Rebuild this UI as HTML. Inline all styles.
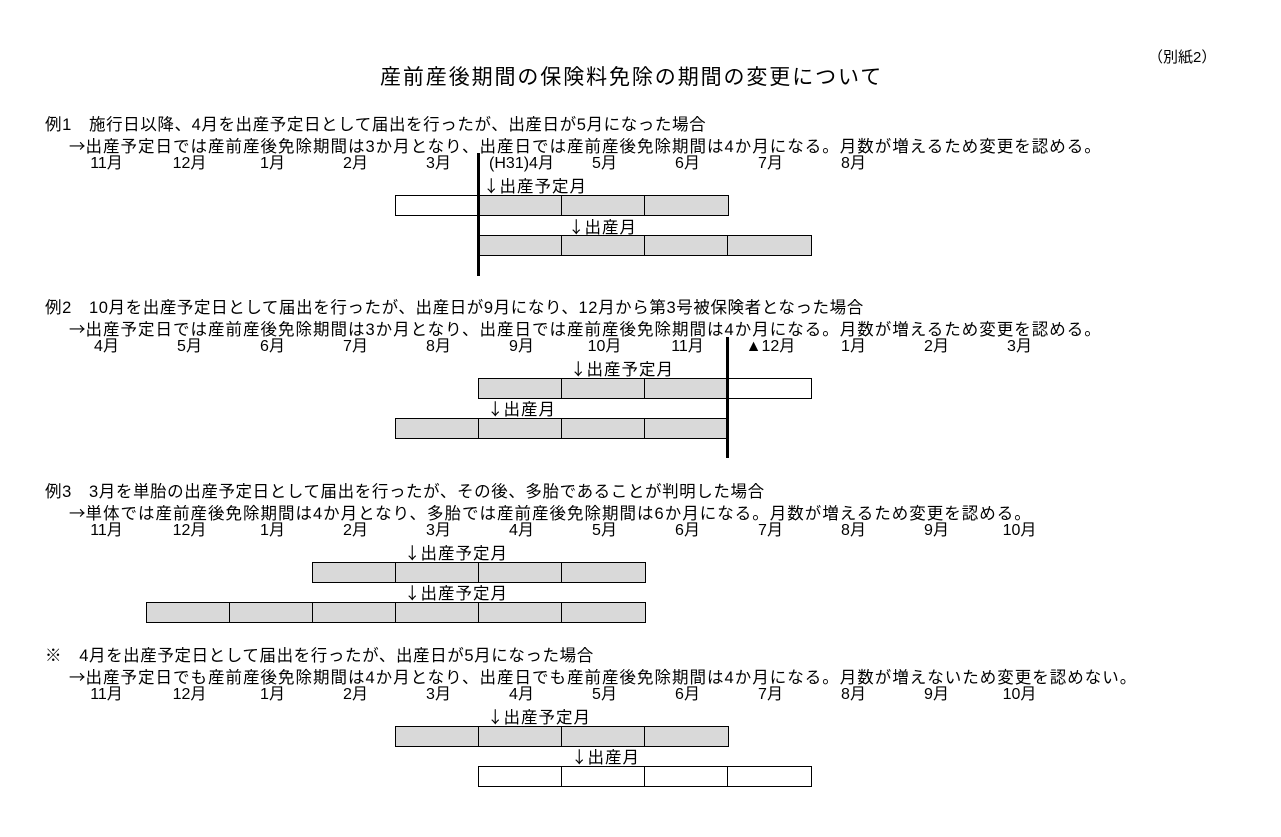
<!DOCTYPE html>
<html><head><meta charset="utf-8"><style>
body{margin:0;width:1281px;height:837px;background:#fff;position:relative;overflow:hidden;font-family:"Liberation Sans","Noto Sans CJK JP",sans-serif;color:#000}
.t{position:absolute;white-space:nowrap;font-size:16.5px;line-height:20px;letter-spacing:1px}
.h{letter-spacing:0.6px}
.a{font-family:"Noto Sans CJK JP",sans-serif;letter-spacing:0}
.m{position:absolute;width:83px;text-align:center;font-size:16px;line-height:20px;white-space:nowrap;padding-left:2px}
.c{position:absolute;height:21px;width:84.5px;box-sizing:border-box;border:1.5px solid #000;background:#d9d9d9}
.w{background:#fff}
.v{position:absolute;width:3px;background:#000}
</style></head><body>
<div class="t" style="left:1148px;top:48px;font-size:15px;letter-spacing:0">（別紙2）</div>
<div class="t" style="left:380px;top:66px;font-size:21px;line-height:24px;letter-spacing:1.9px">産前産後期間の保険料免除の期間の変更について</div>

<!-- Ex1 -->
<div class="t h" style="left:45px;top:115px">例1　施行日以降、4月を出産予定日として届出を行ったが、出産日が5月になった場合</div>
<div class="t" style="left:69px;top:135px"><span class="a">→</span>出産予定日では産前産後免除期間は3か月となり、出産日では産前産後免除期間は4か月になる。月数が増えるため変更を認める。</div>
<div class="m" style="left:63px;top:154px">11月</div><div class="m" style="left:146px;top:154px">12月</div><div class="m" style="left:229px;top:154px">1月</div><div class="m" style="left:312px;top:154px">2月</div><div class="m" style="left:395px;top:154px">3月</div><div class="m" style="left:478px;top:154px">(H31)4月</div><div class="m" style="left:561px;top:154px">5月</div><div class="m" style="left:644px;top:154px">6月</div><div class="m" style="left:727px;top:154px">7月</div><div class="m" style="left:810px;top:154px">8月</div>
<div class="t" style="left:483px;top:175px"><span class="a">↓</span>出産予定月</div>
<div class="c w" style="left:395px;top:195px"></div><div class="c" style="left:478px;top:195px"></div><div class="c" style="left:561px;top:195px"></div><div class="c" style="left:644px;top:195px"></div>
<div class="t" style="left:568px;top:216px"><span class="a">↓</span>出産月</div>
<div class="c" style="left:478px;top:235px"></div><div class="c" style="left:561px;top:235px"></div><div class="c" style="left:644px;top:235px"></div><div class="c" style="left:727px;top:235px"></div>
<div class="v" style="left:477px;top:153px;height:123px"></div>

<!-- Ex2 -->
<div class="t h" style="left:45px;top:298px">例2　10月を出産予定日として届出を行ったが、出産日が9月になり、12月から第3号被保険者となった場合</div>
<div class="t" style="left:69px;top:318px"><span class="a">→</span>出産予定日では産前産後免除期間は3か月となり、出産日では産前産後免除期間は4か月になる。月数が増えるため変更を認める。</div>
<div class="m" style="left:63px;top:337px">4月</div><div class="m" style="left:146px;top:337px">5月</div><div class="m" style="left:229px;top:337px">6月</div><div class="m" style="left:312px;top:337px">7月</div><div class="m" style="left:395px;top:337px">8月</div><div class="m" style="left:478px;top:337px">9月</div><div class="m" style="left:561px;top:337px">10月</div><div class="m" style="left:644px;top:337px">11月</div><div class="m" style="left:727px;top:337px">▲12月</div><div class="m" style="left:810px;top:337px">1月</div><div class="m" style="left:893px;top:337px">2月</div><div class="m" style="left:976px;top:337px">3月</div>
<div class="t" style="left:570px;top:358px"><span class="a">↓</span>出産予定月</div>
<div class="c" style="left:478px;top:378px"></div><div class="c" style="left:561px;top:378px"></div><div class="c" style="left:644px;top:378px"></div><div class="c w" style="left:727px;top:378px"></div>
<div class="t" style="left:487px;top:398px"><span class="a">↓</span>出産月</div>
<div class="c" style="left:395px;top:418px"></div><div class="c" style="left:478px;top:418px"></div><div class="c" style="left:561px;top:418px"></div><div class="c" style="left:644px;top:418px"></div>
<div class="v" style="left:726px;top:337px;height:121px"></div>

<!-- Ex3 -->
<div class="t h" style="left:45px;top:482px">例3　3月を単胎の出産予定日として届出を行ったが、その後、多胎であることが判明した場合</div>
<div class="t" style="left:69px;top:502px"><span class="a">→</span>単体では産前産後免除期間は4か月となり、多胎では産前産後免除期間は6か月になる。月数が増えるため変更を認める。</div>
<div class="m" style="left:63px;top:521px">11月</div><div class="m" style="left:146px;top:521px">12月</div><div class="m" style="left:229px;top:521px">1月</div><div class="m" style="left:312px;top:521px">2月</div><div class="m" style="left:395px;top:521px">3月</div><div class="m" style="left:478px;top:521px">4月</div><div class="m" style="left:561px;top:521px">5月</div><div class="m" style="left:644px;top:521px">6月</div><div class="m" style="left:727px;top:521px">7月</div><div class="m" style="left:810px;top:521px">8月</div><div class="m" style="left:893px;top:521px">9月</div><div class="m" style="left:976px;top:521px">10月</div>
<div class="t" style="left:404px;top:542px"><span class="a">↓</span>出産予定月</div>
<div class="c" style="left:312px;top:562px"></div><div class="c" style="left:395px;top:562px"></div><div class="c" style="left:478px;top:562px"></div><div class="c" style="left:561px;top:562px"></div>
<div class="t" style="left:404px;top:582px"><span class="a">↓</span>出産予定月</div>
<div class="c" style="left:146px;top:602px"></div><div class="c" style="left:229px;top:602px"></div><div class="c" style="left:312px;top:602px"></div><div class="c" style="left:395px;top:602px"></div><div class="c" style="left:478px;top:602px"></div><div class="c" style="left:561px;top:602px"></div>

<!-- Ex4 -->
<div class="t h" style="left:45px;top:646px">※　4月を出産予定日として届出を行ったが、出産日が5月になった場合</div>
<div class="t" style="left:69px;top:666px"><span class="a">→</span>出産予定日でも産前産後免除期間は4か月となり、出産日でも産前産後免除期間は4か月になる。月数が増えないため変更を認めない。</div>
<div class="m" style="left:63px;top:685px">11月</div><div class="m" style="left:146px;top:685px">12月</div><div class="m" style="left:229px;top:685px">1月</div><div class="m" style="left:312px;top:685px">2月</div><div class="m" style="left:395px;top:685px">3月</div><div class="m" style="left:478px;top:685px">4月</div><div class="m" style="left:561px;top:685px">5月</div><div class="m" style="left:644px;top:685px">6月</div><div class="m" style="left:727px;top:685px">7月</div><div class="m" style="left:810px;top:685px">8月</div><div class="m" style="left:893px;top:685px">9月</div><div class="m" style="left:976px;top:685px">10月</div>
<div class="t" style="left:487px;top:706px"><span class="a">↓</span>出産予定月</div>
<div class="c" style="left:395px;top:726px"></div><div class="c" style="left:478px;top:726px"></div><div class="c" style="left:561px;top:726px"></div><div class="c" style="left:644px;top:726px"></div>
<div class="t" style="left:571px;top:746px"><span class="a">↓</span>出産月</div>
<div class="c w" style="left:478px;top:766px"></div><div class="c w" style="left:561px;top:766px"></div><div class="c w" style="left:644px;top:766px"></div><div class="c w" style="left:727px;top:766px"></div>
</body></html>
